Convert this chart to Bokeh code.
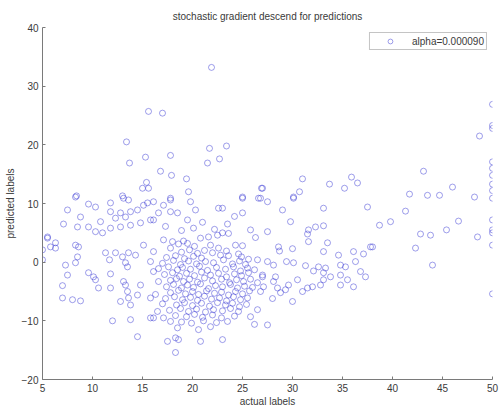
from bokeh.plotting import figure
from bokeh.models import FixedTicker
from bokeh.embed import file_html
from bokeh.resources import INLINE

x_ticks = [5, 10, 15, 20, 25, 30, 35, 40, 45, 50]
y_ticks = [-20, -10, 0, 10, 20, 30, 40]
series_label = "alpha=0.000090"

# outliers / upper region and right side
actual_upper = [15.6, 13.4, 13.7, 15.3, 15.4, 15.0, 15.6, 8.4, 13.0,
                21.9, 17.0, 17.8, 21.7, 23.4, 21.5, 22.7, 16.8, 17.9, 19.4, 19.6, 25.0, 26.9, 26.6, 17.8,
                27.0, 31.0, 30.7, 30.1, 33.7, 35.2, 35.9, 36.5,
                50, 50, 50, 48.7, 50, 50, 50, 50, 50, 43.1, 46.0, 41.7, 43.5, 44.7, 48.2, 50,
                41.3, 38.7, 39.8, 46.6, 45.4, 42.8, 43.8, 48.5, 50, 50, 50, 50, 42.3, 44.0, 50, 38.0]
predicted_upper = [25.7, 20.5, 16.9, 17.9, 13.6, 12.6, 12.6, 11.3, 11.3,
                   33.2, 25.4, 18.2, 19.4, 19.8, 16.9, 17.6, 15.5, 14.8, 14.2, 12.0, 11.1, 12.6, 10.9, 10.9,
                   12.6, 14.2, 12.0, 11.1, 13.3, 12.6, 14.5, 13.5,
                   26.9, 23.3, 22.8, 21.5, 17.1, 16.0, 14.8, 13.3, 12.2, 15.5, 12.8, 11.6, 11.4, 11.4, 11.1, 10.9,
                   8.7, 6.3, 6.9, 7.0, 5.5, 4.8, 4.6, 4.3, 7.2, 5.5, 5.0, 2.9, 2.4, -0.5, -5.4, 2.6]

# middle-right group (x 27..38)
actual_mid = [30.1, 27.5, 29.0, 33.1, 37.5, 29.8, 27.5, 31.6, 32.3, 33.1, 31.5, 31.6, 33.5, 37.8, 28.6, 28.7,
              30.0, 33.1, 34.6, 36.1, 37.1, 27.5, 28.1, 29.4, 30.1, 31.3, 32.1, 32.6, 33.3, 33.1, 34.8, 35.3,
              36.3, 36.8, 37.3, 34.8, 35.5, 34.8, 36.1, 27.0, 27.1, 28.1, 28.5, 28.8, 29.3, 29.6, 28.3, 30.5,
              31.0, 31.5, 32.0, 32.8, 33.1, 33.8, 28.0, 30.0, 27.5]
predicted_mid = [10.9, 10.3, 8.9, 9.2, 9.4, 6.9, 5.2, 5.5, 6.0, 6.2, 4.8, 3.5, 3.3, 2.6, 2.6, 1.9,
                 2.3, 1.8, 1.2, 1.8, 1.4, 0.1, -0.5, 0.1, -0.1, -0.6, -1.5, -0.8, -1.0, -1.8, -0.5, -0.8,
                 0.1, -1.6, -2.5, -2.2, -3.0, -3.9, -4.2, -2.2, -4.2, -3.3, -4.4, -5.2, -4.7, -3.9, -2.5, -3.0,
                 -5.0, -4.4, -4.2, -3.9, -3.0, -2.5, -6.2, -6.7, -10.7]

# edges of the central cloud
actual_edge = [16.1, 17.1, 17.8, 16.6, 17.8, 18.5, 16.1, 19.8, 20.3, 22.6, 23.0, 25.0, 26.8, 25.0, 19.5, 20.1,
               23.5, 24.2, 21.0, 25.8, 26.3, 22.2, 18.9, 17.3,
               16.1, 15.8, 16.1, 16.6, 16.3, 15.8, 16.5, 17.1, 16.1,
               17.8, 18.6, 17.5, 18.3, 20.6, 20.8, 21.8, 23.0, 18.3,
               26.5, 27.0, 26.5, 26.8, 26.5, 25.8, 26.2]
predicted_edge = [10.3, 9.7, 10.6, 8.4, 8.6, 8.4, 7.2, 10.3, 8.9, 9.2, 9.2, 10.9, 10.9, 8.4, 7.2, 5.8,
                  6.5, 7.8, 6.8, 5.5, 4.2, 5.6, 5.4, 6.1,
                  1.8, 0.1, -1.6, -3.3, -5.5, -6.1, -8.4, -9.5, -9.5,
                  -10.1, -13.2, -13.5, -12.9, -11.5, -13.5, -11.0, -13.2, -15.4,
                  0.4, -2.5, -3.5, -5.0, -8.1, -9.3, -10.6]

# dense central cloud (x 17..26)
actual_core = [17.1, 18.0, 19.1, 20.8, 21.6, 22.5, 23.0, 23.6,
               17.8, 18.6, 20.2, 21.8, 22.6, 24.3, 25.0, 19.5,
               18.9, 19.7, 20.5, 21.2, 22.0, 23.4, 24.6, 22.8, 23.6,
               17.4, 18.3, 19.2, 20.1, 20.9, 24.9, 25.6,
               17.0, 18.1, 18.8, 19.6, 20.4, 21.3, 22.1, 23.1, 24.0, 24.7, 25.3,
               16.6, 17.6, 18.5, 19.0, 19.8, 20.7, 21.5, 22.4, 23.3, 24.1, 24.8, 25.5, 26.2,
               17.2, 18.0, 18.7, 19.4, 20.2, 20.9, 21.8, 22.6, 23.4, 24.2, 24.9, 25.6,
               17.8, 18.4, 19.1, 19.7, 20.5, 21.2, 22.0, 22.9, 23.7, 24.4, 25.1, 25.8,
               17.4, 18.1, 18.9, 19.5, 20.1, 20.8, 21.6, 22.3, 23.0, 23.8, 24.5, 25.2, 26.0,
               17.8, 18.6, 19.3, 20.0, 20.6, 21.4, 22.2, 22.9, 23.6, 24.3, 25.0, 25.7,
               17.3, 18.2, 19.0, 19.8, 20.5, 21.2, 21.9, 22.7, 23.4, 24.1, 24.8, 25.5,
               17.0, 18.4, 19.2, 20.0, 20.9, 21.7, 22.5, 23.3, 24.0, 24.7, 25.4,
               17.7, 18.8, 19.6, 20.4, 21.3, 22.1, 23.0, 23.8, 24.6,
               18.3, 19.4, 20.2, 21.0, 22.0, 22.9, 24.2,
               18.9, 19.9, 21.1, 22.4, 23.5, 18.5]
predicted_core = [3.8, 3.5, 3.6, 4.1, 4.3, 4.6, 5.0, 4.9,
                  2.4, 3.1, 2.7, 2.9, 2.4, 2.9, 2.8, 3.2,
                  1.7, 2.1, 1.5, 2.0, 1.6, 1.9, 1.4, 1.2, 1.1,
                  0.8, 1.1, 0.6, 1.0, 0.7, 0.9, 0.5,
                  -0.2, 0.3, -0.4, 0.2, -0.3, 0.1, -0.1, 0.4, -0.3, 0.2, -0.4,
                  -1.1, -0.8, -1.3, -0.9, -1.2, -0.7, -1.4, -0.9, -1.2, -0.8, -1.5, -1.0, -1.3,
                  -2.1, -1.8, -2.4, -1.9, -2.3, -1.7, -2.2, -1.9, -2.5, -2.0, -2.3, -1.8,
                  -3.1, -2.8, -3.3, -2.9, -3.4, -2.7, -3.2, -2.9, -3.5, -3.0, -3.3, -2.9,
                  -4.2, -3.8, -4.4, -3.9, -4.3, -3.7, -4.5, -4.0, -4.2, -3.8, -4.4, -4.1, -4.3,
                  -5.2, -4.8, -5.4, -5.0, -5.5, -4.9, -5.3, -5.1, -5.6, -5.0, -5.4, -4.9,
                  -6.2, -5.9, -6.4, -6.0, -6.5, -5.8, -6.3, -6.1, -6.6, -5.9, -6.4, -6.1,
                  -7.1, -7.3, -6.9, -7.4, -7.0, -7.5, -6.9, -7.3, -7.0, -7.6, -7.2,
                  -8.2, -7.9, -8.4, -8.0, -8.5, -8.1, -8.3, -7.9, -8.4,
                  -9.1, -9.3, -8.9, -9.4, -9.0, -9.5, -9.2,
                  -10.2, -10.4, -10.0, -10.3, -10.1, -11.2]

# left group (x 5..16)
actual_left = [8.3, 7.5, 8.8, 9.6, 10.3, 11.8, 13.1, 13.6, 7.1, 8.5, 9.6, 10.8, 11.8, 12.3, 12.8, 13.3,
               13.8, 14.5, 15.1, 15.5, 10.3, 11.0, 11.8, 12.8, 13.8, 14.8, 15.8, 5.5, 6.3, 5.0, 5.0, 8.3,
               8.6, 8.5, 8.3, 11.3, 12.3, 11.7, 13.0, 13.6, 14.3, 13.3, 13.5, 15.1, 7.3, 7.5, 7.0, 7.0,
               8.0, 8.8, 9.6, 10.1, 10.3, 11.8, 10.6, 11.8, 12.8, 13.5, 13.6, 13.8, 14.5, 14.8, 13.3, 13.1,
               15.8, 12.0, 13.8, 14.5, 5.8, 6.3, 5.5]
predicted_left = [11.1, 8.9, 7.7, 9.9, 9.4, 10.1, 10.9, 10.6, 6.5, 6.0, 6.0, 6.9, 8.6, 7.5, 8.4, 7.7,
                  8.6, 8.9, 9.7, 10.1, 5.2, 5.0, 5.8, 6.0, 6.3, 6.7, 7.2, 4.1, 3.3, 2.1, 0.4, 2.9,
                  2.6, 0.9, -0.1, 1.6, 1.6, 0.4, 0.9, 1.6, 1.2, -0.1, -0.8, 2.9, -0.5, -2.2, -4.0, -6.1,
                  -6.4, -6.6, -1.8, -2.5, -3.0, -2.0, -4.4, -4.4, -6.7, -5.0, -6.1, -7.3, -5.6, -3.9, -3.9, -3.3,
                  -9.5, -10.0, -9.8, -12.7, 2.6, 2.4, 4.3]

actual = actual_upper + actual_mid + actual_edge + actual_core + actual_left
predicted = predicted_upper + predicted_mid + predicted_edge + predicted_core + predicted_left

FONT = "Liberation Sans"
TXT = "#3a3a3a"
FS = "10px"

p = figure(width=502, height=409, output_backend="svg", toolbar_location=None,
           x_range=(5, 50), y_range=(-20, 40),
           title="stochastic gradient descend for predictions",
           min_border_left=42, min_border_right=10, min_border_top=27, min_border_bottom=29)
p.outline_line_color = None
p.xgrid.visible = False
p.ygrid.visible = False
p.background_fill_color = "white"
p.border_fill_color = "white"

p.title.align = "center"
p.title.text_font = FONT
p.title.text_font_size = FS
p.title.text_font_style = "normal"
p.title.text_color = TXT
p.title.offset = 0
p.title.vertical_align = "middle"

p.scatter(actual, predicted, marker="circle", size=6, fill_color=None,
          line_color="#2a2ad0", line_alpha=0.5, line_width=0.9,
          legend_label=series_label)

for ax in (p.xaxis[0], p.yaxis[0]):
    ax.axis_line_color = "#7a7a7a"
    ax.major_tick_line_color = "#7a7a7a"
    ax.major_tick_in = 3
    ax.major_tick_out = 0
    ax.minor_tick_line_color = None
    ax.major_label_text_font = FONT
    ax.major_label_text_font_size = FS
    ax.major_label_text_color = TXT
    ax.axis_label_text_font = FONT
    ax.axis_label_text_font_size = FS
    ax.axis_label_text_font_style = "normal"
    ax.axis_label_text_color = TXT

p.xaxis.ticker = FixedTicker(ticks=x_ticks)
p.yaxis.ticker = FixedTicker(ticks=y_ticks)
p.xaxis.axis_label = "actual labels"
p.yaxis.axis_label = "predicted labels"
p.xaxis.major_label_standoff = 4
p.xaxis.axis_label_standoff = 1
p.yaxis.major_label_standoff = 4
p.yaxis.axis_label_standoff = 3

lg = p.legend[0]
lg.location = "top_right"
lg.margin = 5
lg.padding = 2
lg.spacing = 0
lg.border_line_color = "#8a8a8a"
lg.border_line_width = 1
lg.background_fill_color = "white"
lg.label_text_font = FONT
lg.label_text_font_size = FS
lg.label_text_color = TXT
lg.glyph_width = 36
lg.glyph_height = 12
lg.label_standoff = 4
lg.label_height = 12

open("out.html", "w").write(file_html(p, INLINE))
